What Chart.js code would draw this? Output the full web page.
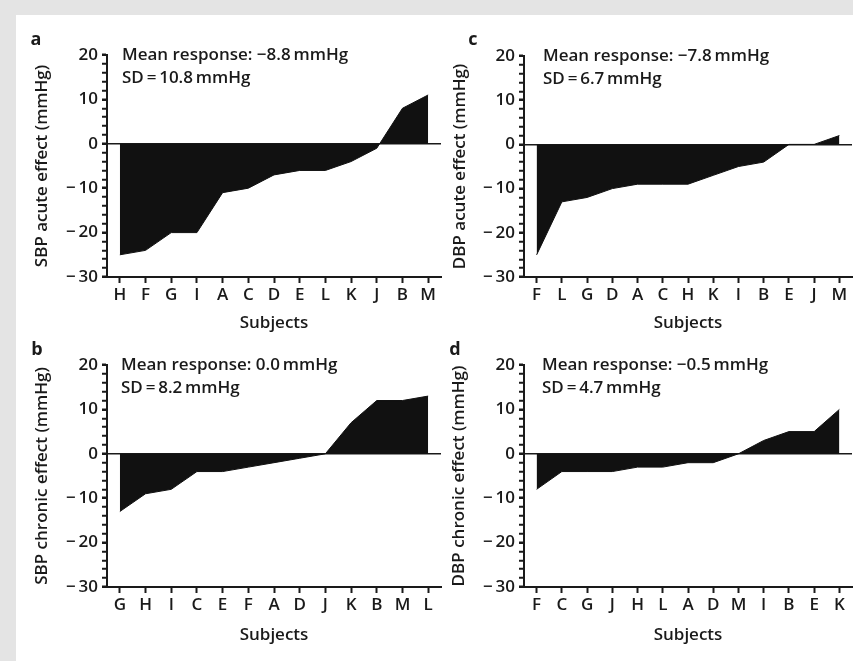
<!DOCTYPE html>
<html>
<head>
<meta charset="utf-8">
<script src="https://cdn.jsdelivr.net/npm/chart.js@4.4.1/dist/chart.umd.min.js"></script>
<style>
  html, body { margin: 0; padding: 0; }
  body { width: 853px; height: 661px; background: #e4e4e4; position: relative; overflow: hidden; }
  #sheet { position: absolute; left: 16px; top: 15px; right: 0; bottom: 0; background: #fff; }
  .panel { position: absolute; }
  .panel canvas { display: block; }
</style>
</head>
<body>
<div id="sheet"></div>
<div class="panel" style="left:16px;top:15px"><canvas id="chartA" width="430" height="325"></canvas></div>
<div class="panel" style="left:446px;top:15px"><canvas id="chartC" width="407" height="325"></canvas></div>
<div class="panel" style="left:16px;top:340px"><canvas id="chartB" width="430" height="312"></canvas></div>
<div class="panel" style="left:446px;top:340px"><canvas id="chartD" width="407" height="312"></canvas></div>
<script>
// subjects are sorted by response in each panel
var subjectsA = ['H', 'F', 'G', 'I', 'A', 'C', 'D', 'E', 'L', 'K', 'J', 'B', 'M'];
var sbpAcute = [-25, -24, -20, -20, -11, -10, -7, -6, -6, -4, -1, 8, 11];

var subjectsB = ['G', 'H', 'I', 'C', 'E', 'F', 'A', 'D', 'J', 'K', 'B', 'M', 'L'];
var sbpChronic = [-13, -9, -8, -4, -4, -3, -2, -1, 0, 7, 12, 12, 13];

var subjectsC = ['F', 'L', 'G', 'D', 'A', 'C', 'H', 'K', 'I', 'B', 'E', 'J', 'M'];
var dbpAcute = [-25, -13, -12, -10, -9, -9, -9, -7, -5, -4, 0, 0, 2];

var subjectsD = ['F', 'C', 'G', 'J', 'H', 'L', 'A', 'D', 'M', 'I', 'B', 'E', 'K'];
var dbpChronic = [-8, -4, -4, -4, -3, -3, -2, -2, 0, 3, 5, 5, 10];

var yMin = -30;
var yMax = 20;

var FONT = '"Open Sans", "DejaVu Sans", sans-serif';
var INK = '#1a1a1a';

/**
 * Draws the panel letter and the mean / SD note inside the plot
 */
var notesPlugin = {
	id: 'notes',
	afterDraw: function(chart, args, opts) {
		var ctx = chart.ctx;
		var area = chart.chartArea;
		ctx.save();
		ctx.fillStyle = INK;
		ctx.textAlign = 'left';
		ctx.textBaseline = 'alphabetic';
		ctx.font = '600 17px ' + FONT;
		ctx.fillText(opts.mean, area.left + opts.textX, area.top + 5);
		ctx.fillText(opts.sd, area.left + opts.textX, area.top + 28);
		ctx.textAlign = 'center';
		ctx.font = '700 18px ' + FONT;
		ctx.fillText(opts.letter, opts.letterX, opts.letterY);
		ctx.restore();
	}
};

function fmtTick(v) {
	if (v % 10 !== 0) return '';
	return v < 0 ? '\u2212\u2009' + Math.abs(v) : String(v);
}

function makePanel(id, labels, values, yTitle, notes, box) {
	var ctx = document.getElementById(id).getContext('2d');
	return new Chart(ctx, {
		type: 'line',
		data: {
			labels: labels,
			datasets: [{
				data: values,
				fill: 'origin',
				backgroundColor: '#111',
				borderColor: '#111',
				borderWidth: 1,
				pointRadius: 0,
				tension: 0
			}]
		},
		options: {
			responsive: false,
			animation: false,
			layout: { padding: { top: box.top, right: box.right, left: 0, bottom: 0 } },
			plugins: {
				legend: { display: false },
				tooltip: { enabled: false },
				notes: notes
			},
			scales: {
				x: {
					type: 'category',
					offset: true,
					afterFit: function(scale) { scale.height = box.xHeight; },
					border: { display: true, color: INK, width: 2 },
					grid: { drawOnChartArea: false, offset: false, drawTicks: true, tickLength: 6, tickWidth: 2, tickColor: INK },
					ticks: { color: INK, padding: 2, autoSkip: false, maxRotation: 0, font: { family: FONT, size: 17, weight: '600' } },
					title: { display: true, text: 'Subjects', color: INK, padding: { top: 0, bottom: 7 }, font: { family: FONT, size: 17, weight: '600' } }
				},
				y: {
					min: yMin,
					max: yMax,
					afterFit: function(scale) { scale.width = box.yWidth; },
					border: { display: true, color: INK, width: 2 },
					grid: {
						drawOnChartArea: true,
						color: function(c) { return c.tick && c.tick.value === 0 ? INK : 'rgba(0,0,0,0)'; },
						lineWidth: 1.5,
						tickLength: 5,
						tickColor: INK,
						tickWidth: function(c) { return c.tick && c.tick.value % 10 === 0 ? 2.5 : 2; }
					},
					ticks: { stepSize: 2, autoSkip: false, color: INK, padding: 4, callback: fmtTick, font: { family: FONT, size: 17, weight: '600' } },
					title: { display: true, text: yTitle, color: INK, padding: { top: box.yTitlePad, bottom: 0 }, font: { family: FONT, size: 17, weight: '600' } }
				}
			}
		},
		plugins: [notesPlugin]
	});
}

makePanel('chartA', subjectsA, sbpAcute, 'SBP acute effect (mmHg)',
	{ mean: 'Mean response: \u22128.8\u2009mmHg', sd: 'SD\u2009=\u200910.8\u2009mmHg', letter: 'a', letterX: 20, letterY: 30, textX: 15 },
	{ top: 40, right: 5, yWidth: 91, xHeight: 63, yTitlePad: 16 });

makePanel('chartC', subjectsC, dbpAcute, 'DBP acute effect (mmHg)',
	{ mean: 'Mean response: \u22127.8\u2009mmHg', sd: 'SD\u2009=\u20096.7\u2009mmHg', letter: 'c', letterX: 27, letterY: 30, textX: 19 },
	{ top: 41, right: 1, yWidth: 78, xHeight: 63, yTitlePad: 4 });

makePanel('chartB', subjectsB, sbpChronic, 'SBP chronic effect (mmHg)',
	{ mean: 'Mean response: 0.0\u2009mmHg', sd: 'SD\u2009=\u20098.2\u2009mmHg', letter: 'b', letterX: 21, letterY: 15, textX: 14 },
	{ top: 25, right: 5, yWidth: 91, xHeight: 65, yTitlePad: 16 });

makePanel('chartD', subjectsD, dbpChronic, 'DBP chronic effect (mmHg)',
	{ mean: 'Mean response: \u22120.5\u2009mmHg', sd: 'SD\u2009=\u20094.7\u2009mmHg', letter: 'd', letterX: 9, letterY: 15, textX: 18 },
	{ top: 25, right: 1, yWidth: 78, xHeight: 65, yTitlePad: 3 });
</script>
</body>
</html>
